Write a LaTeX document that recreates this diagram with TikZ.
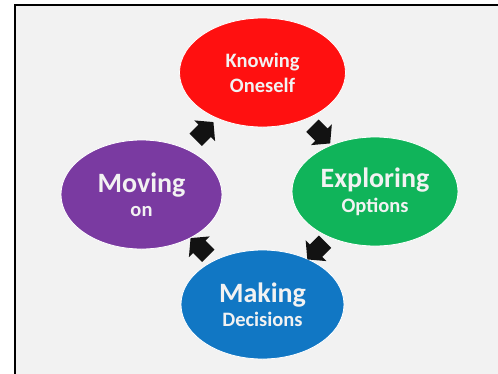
\documentclass[tikz,border=0pt]{standalone}
\usepackage{fontspec}
\setmainfont{Carlito}
\usetikzlibrary{shapes.geometric,shapes.arrows,calc}

\definecolor{knowred}{HTML}{FF1010}
\definecolor{explgreen}{HTML}{10B45A}
\definecolor{makeblue}{HTML}{1177C4}
\definecolor{movepurple}{HTML}{7A3AA1}
\definecolor{panelgray}{HTML}{F2F2F2}

\tikzset{
  stage/.style={ellipse, draw=white, line width=0.8pt, inner sep=0pt,
    text=panelgray, align=center, font=\bfseries\fontsize{20.5}{24}\selectfont},
  cyclearrow/.style={single arrow, fill=black!93, inner sep=0pt, inner ysep=8.5pt,
    minimum height=25pt, single arrow head extend=6pt, single arrow tip angle=100}
}

\begin{document}
\begin{tikzpicture}[x=1pt,y=-1pt]
        \useasboundingbox (0,0) rectangle (498,373);
        \fill [white] (0,0) rectangle (498,373);
        \draw [draw=black, line width=2pt, fill=panelgray] (14.5,5) rectangle (520,390);

        % the four stages, clockwise from the top
        \node [stage, fill=knowred, minimum width=166pt, minimum height=109pt] (know) at (262.5,72.5)
            {Knowing\\[1pt]Oneself};
        \node [stage, fill=explgreen, minimum width=166pt, minimum height=109pt] (expl) at (375,191.5)
            {{\fontsize{28}{24}\selectfont Exploring}\\[1pt]Options};
        \node [stage, fill=makeblue, minimum width=163pt, minimum height=109pt] (make) at (262.5,304.5)
            {{\fontsize{28}{24}\selectfont Making}\\Decisions};
        \node [stage, fill=movepurple, minimum width=161pt, minimum height=109pt] (move) at (141.5,194.5)
            {{\fontsize{28}{24}\selectfont Moving}\\on};

        % arrows between the stages
        \node [cyclearrow, rotate=-45] (ar1) at ($(know)!0.5!(expl)$) {};
        \node [cyclearrow, rotate=-135] (ar2) at ($(expl)!0.5!(make)$) {};
        \node [cyclearrow, rotate=135] (ar3) at ($(make)!0.5!(move)$) {};
        \node [cyclearrow, rotate=45] (ar4) at ($(move)!0.5!(know)$) {};
\end{tikzpicture}
\end{document}
